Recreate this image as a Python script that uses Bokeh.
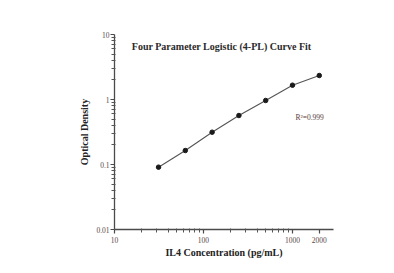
import re
from bokeh.plotting import figure
from bokeh.models import FixedTicker, Label, Range1d
from bokeh.embed import file_html
from bokeh.resources import INLINE

# data
concentration = [31.25, 62.5, 125, 250, 500, 1000, 2000]
optical_density = [0.091, 0.164, 0.314, 0.567, 0.966, 1.66, 2.34]
x_ticks = [10, 100, 1000, 2000]
x_tick_labels = {10: "10", 100: "100", 1000: "1000", 2000: "2000"}
y_ticks = [0.01, 0.1, 1, 10]
y_tick_labels = {0.01: "0.01", 0.1: "0.1", 1: "1", 10: "10"}
title_text = "Four Parameter Logistic (4-PL) Curve Fit"
r2_text = "R\u00b2=0.999"

SERIF = "Liberation Serif"
AX = "#4a4a4a"

p = figure(width=394, height=273, x_axis_type="log", y_axis_type="log",
           x_range=Range1d(10, 2890), y_range=Range1d(0.01, 10),
           output_backend="svg", toolbar_location=None,
           min_border_left=114, min_border_right=61, min_border_top=34, min_border_bottom=44)
p.outline_line_color = None
p.xgrid.visible = False
p.ygrid.visible = False
p.background_fill_color = "white"
p.border_fill_color = "white"

minor_x = [m * d for d in (10, 100, 1000) for m in range(2, 10) if m * d < 2890 and m * d != 2000]
p.xaxis.ticker = FixedTicker(ticks=x_ticks, minor_ticks=minor_x)
p.xaxis.major_label_overrides = x_tick_labels
minor_y = [m * d for d in (0.01, 0.1, 1) for m in range(2, 10)]
p.yaxis.ticker = FixedTicker(ticks=y_ticks, minor_ticks=minor_y)
p.yaxis.major_label_overrides = y_tick_labels

for ax in (p.xaxis[0], p.yaxis[0]):
    ax.axis_line_color = AX
    ax.axis_line_width = 1.3
    ax.major_tick_line_color = AX
    ax.major_tick_line_width = 1.2
    ax.minor_tick_line_color = "#555555"
    ax.minor_tick_line_width = 1
    ax.major_tick_out = 4
    ax.major_tick_in = 0
    ax.minor_tick_out = 3
    ax.minor_tick_in = 1
    ax.major_label_text_font = SERIF
    ax.major_label_text_font_size = "7.5px"
    ax.major_label_text_color = "#5a4848"
    ax.axis_label_text_font = SERIF
    ax.axis_label_text_font_style = "bold"
    ax.axis_label_text_font_size = "10px"
    ax.axis_label_text_color = "#222222"

p.xaxis.axis_label = "IL4 Concentration (pg/mL)"
p.yaxis.axis_label = "Optical Density"
p.xaxis.major_label_standoff = 3
p.yaxis.major_label_standoff = 1
p.xaxis.axis_label_standoff = 1
p.yaxis.axis_label_standoff = 3

p.line(concentration, optical_density, line_color="#555555", line_width=1.1)
p.scatter(concentration, optical_density, size=4.5, color="#1a1a1a")

p.add_layout(Label(x=160, y=6.6, text=title_text, text_font=SERIF, text_font_style="bold",
                   text_font_size="10px", text_color="#2a2a2a", text_align="center",
                   text_baseline="middle"))
p.add_layout(Label(x=1080, y=0.52, text=r2_text, text_font=SERIF,
                   text_font_size="7.5px", text_color="#5a3c3c", text_align="left",
                   text_baseline="middle"))

html = file_html(p, INLINE)
strips = ('<div style="position:fixed;left:12px;top:6px;right:0;height:4px;background:#ececec;z-index:1000;pointer-events:none"></div>'
          '<div style="position:fixed;left:12px;top:6px;bottom:0;width:4px;background:#ececec;z-index:1000;pointer-events:none"></div>')
html = re.sub(r"(<body[^>]*>)", lambda m: m.group(1) + strips, html, count=1)
open("out.html", "w").write(html)
